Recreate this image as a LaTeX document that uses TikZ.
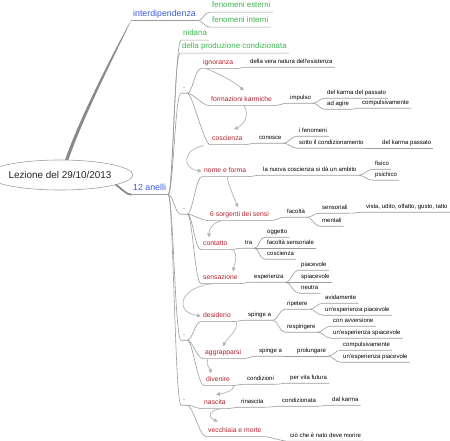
\documentclass[tikz,border=0pt]{standalone}
\usepackage{fontspec}
\setmainfont{Liberation Sans}
\usepackage{tikz}
\usetikzlibrary{positioning, shapes.geometric, arrows.meta}
\definecolor{topicBlue}{HTML}{3A5CDB}
\definecolor{topicGreen}{HTML}{3DB84F}
\definecolor{topicRed}{HTML}{B3202C}
\definecolor{lineGray}{HTML}{9C9C9C}
\definecolor{trunkGray}{HTML}{8A8A8A}
\definecolor{arrowGray}{HTML}{B4B4B4}
\begin{document}
\begin{tikzpicture}[x=1pt, y=-1pt,
    topic/.style={anchor=west, inner xsep=2pt, inner ysep=2pt},
    maintopic/.style={topic, text=topicBlue, font=\fontsize{8.8}{10}\selectfont, text height=6.6pt, text depth=2.2pt},
    greentopic/.style={topic, text=topicGreen, font=\fontsize{7.9}{9}\selectfont, text height=5.9pt, text depth=2pt},
    ringtopic/.style={topic, text=topicRed, font=\fontsize{6.8}{8}\selectfont, text height=5pt, text depth=1.7pt},
    leaftopic/.style={topic, font=\fontsize{6}{7}\selectfont, text height=4.5pt, text depth=1.5pt},
    dashtopic/.style={leaftopic, text=black!60},
    branch/.style={draw=lineGray, line width=0.6pt},
    trunk/.style={draw=trunkGray, line width=1.8pt, line cap=round},
    rel/.style={draw=arrowGray, line width=0.7pt, -{Triangle[length=4pt, width=3.6pt]}}]
  \fill[white] (0,0) rectangle (450,440);
  \useasboundingbox (0,0) rectangle (450,440);

  \node[ellipse, draw=gray!75, line width=0.6pt, minimum width=119pt, minimum height=30pt, inner sep=0pt,
        text=black!85, font=\fontsize{9.9}{11}\selectfont] (root) at (60,175) {Lezione del 29/10/2013};

  % main topics
  \node[maintopic] (interd) at (131,14) {interdipendenza};
  \node[greentopic] (fext) at (210,6) {fenomeni esterni};
  \node[greentopic] (fint) at (210,21) {fenomeni interni};
  \node[maintopic] (anelli) at (131,188) {12 anelli};
  \node[greentopic] (nidana) at (181,34) {nidana};
  \node[greentopic] (dpc) at (180,47) {della produzione condizionata};
  \node[dashtopic] (d1) at (181,88) {-};
  \node[dashtopic] (d2) at (181,209) {-};
  \node[dashtopic] (d3) at (181,335) {-};
  \node[dashtopic] (d4) at (181,400) {-};

  % the twelve links
  \node[ringtopic] (ign) at (201,63) {ignoranza};
  \node[ringtopic] (fk) at (209,100) {formazioni karmiche};
  \node[ringtopic] (cos) at (210,139) {coscienza};
  \node[ringtopic] (nef) at (202,171) {nome e forma};
  \node[ringtopic] (sei) at (208,215) {6 sorgenti dei sensi};
  \node[ringtopic] (cont) at (201,244) {contatto};
  \node[ringtopic] (sens) at (201,278) {sensazione};
  \node[ringtopic] (des) at (201,316) {desiderio};
  \node[ringtopic] (agg) at (203,353) {aggrapparsi};
  \node[ringtopic] (div) at (204,380) {divenire};
  \node[ringtopic] (nas) at (202,403) {nascita};
  \node[ringtopic] (vec) at (206,431) {vecchiaia e morte};

  % details
  \node[leaftopic] (dvn) at (248,62) {della vera natura dell'esistenza};
  \node[leaftopic] (imp) at (288,98) {impulso};
  \node[leaftopic] (dkp) at (325,93) {del karma del passato};
  \node[leaftopic] (adag) at (325,104) {ad agire};
  \node[leaftopic] (comp) at (360,103) {compulsivamente};
  \node[leaftopic] (con) at (257,138) {conosce};
  \node[leaftopic] (ifen) at (297,131) {i fenomeni};
  \node[leaftopic] (sotto) at (297,143) {sotto il condizionamento};
  \node[leaftopic] (dkpa) at (380,143) {del karma passato};
  \node[leaftopic] (nca) at (261,170) {la nuova coscienza si dà un ambito};
  \node[leaftopic] (fis) at (373,164) {fisico};
  \node[leaftopic] (psi) at (373,175) {psichico};
  \node[leaftopic] (fac) at (285,212) {facoltà};
  \node[leaftopic] (sensor) at (320,208) {sensoriali};
  \node[leaftopic] (vista) at (364,207) {vista, udito, olfatto, gusto, tatto};
  \node[leaftopic] (ment) at (320,221) {mentali};
  \node[leaftopic] (tra) at (243,243) {tra};
  \node[leaftopic] (ogg) at (265,232) {oggetto};
  \node[leaftopic] (facs) at (265,243) {facoltà sensoriale};
  \node[leaftopic] (cosc) at (265,254) {coscienza};
  \node[leaftopic] (esp) at (252,277) {esperienza};
  \node[leaftopic] (piac) at (299,265) {piacevole};
  \node[leaftopic] (spiac) at (299,277) {spiacevole};
  \node[leaftopic] (neu) at (299,288) {neutra};
  \node[leaftopic] (spa) at (246,315) {spinge a};
  \node[leaftopic] (rip) at (285,304) {ripetere};
  \node[leaftopic] (avid) at (323,298) {avidamente};
  \node[leaftopic] (uep) at (323,310) {un'esperienza piacevole};
  \node[leaftopic] (resp) at (285,327) {respingere};
  \node[leaftopic] (cavv) at (331,321) {con avversione};
  \node[leaftopic] (ues) at (331,333) {un'esperienza spiacevole};
  \node[leaftopic] (spb) at (257,351) {spinge a};
  \node[leaftopic] (prol) at (295,351) {prolungare};
  \node[leaftopic] (compb) at (341,345) {compulsivamente};
  \node[leaftopic] (uepb) at (341,357) {un'esperienza piacevole};
  \node[leaftopic] (condz) at (245,379) {condizioni};
  \node[leaftopic] (pvf) at (288,378) {per vita futura};
  \node[leaftopic] (rin) at (239,402) {rinascita};
  \node[leaftopic] (condta) at (280,401) {condizionata};
  \node[leaftopic] (dalk) at (330,400) {dal karma};
  \node[leaftopic] (cio) at (288,436) {ciò che è nato deve morire};

  % branches
  \fill[trunkGray] ([xshift=-1.7pt]root.66) .. controls +(16,-47) and +(-6,10) .. (interd.south west)
     .. controls +(-4,10) and +(16,-47) .. ([xshift=1.7pt]root.66) -- cycle;
  \draw[trunk] (root.-10) .. controls +(5,3) and +(-5,0) .. (anelli.south west);
  \draw[branch] (interd.south west) -- (interd.south east);
  \draw[branch] (anelli.south west) -- (anelli.south east);
  \foreach \a/\b in {interd/fext, interd/fint, anelli/nidana, anelli/dpc,
      anelli/d1, anelli/d2, anelli/d3, anelli/d4,
      d1/ign, d1/fk, d1/cos, d2/nef, d2/sei, d2/cont, d2/sens,
      d3/des, d3/agg, d3/div, d4/nas, d4/vec,
      ign/dvn, fk/imp, imp/dkp, imp/adag, adag/comp,
      cos/con, con/ifen, con/sotto, sotto/dkpa,
      nef/nca, nca/fis, nca/psi, sei/fac, fac/sensor, sensor/vista, fac/ment,
      cont/tra, tra/ogg, tra/facs, tra/cosc,
      sens/esp, esp/piac, esp/spiac, esp/neu,
      des/spa, spa/rip, rip/avid, rip/uep, spa/resp, resp/cavv, resp/ues,
      agg/spb, spb/prol, prol/compb, prol/uepb,
      div/condz, condz/pvf, nas/rin, rin/condta, condta/dalk, vec/cio}
    \draw[branch] (\a.south east) .. controls +(5,0) and +(-6,0) .. (\b.south west) -- (\b.south east);

  % sequence of the links
  \draw[rel] ([shift={(5,0)}]ign.south west) .. controls +(15,6) and +(-12,-10) .. ([shift={(35,-4)}]fk.north west);
  \draw[rel] ([shift={(35,0)}]fk.south west) .. controls +(6,10) and +(10,-5) .. ([shift={(24,-4)}]cos.north west);
  \draw[rel] ([shift={(-6,1)}]cos.south west) .. controls +(-22,4) and +(-20,-2) .. (nef.west);
  \draw[rel] ([shift={(25,0)}]nef.south west) .. controls +(2,10) and +(-4,-10) .. ([shift={(30,-2)}]sei.north west);
  \draw[rel] ([shift={(14,0)}]sei.south west) .. controls +(-10,2) and +(0,-8) .. ([shift={(8,-1)}]cont.north west);
  \draw[rel] ([shift={(3,0)}]cont.south east) .. controls +(6,6) and +(2,-10) .. ([shift={(32,-1)}]sens.north west);
  \draw[rel] ([shift={(14,0)}]sens.south west) .. controls +(-35,2) and +(-28,-4) .. (des.west);
  \draw[rel] ([shift={(3,0)}]des.south east) .. controls +(3,8) and +(4,-8) .. ([shift={(20,-1)}]agg.north west);
  \draw[rel] ([shift={(5,0)}]agg.south west) .. controls +(-3,5) and +(-1,-5) .. ([shift={(7,-1)}]div.north west);
  \draw[rel] ([shift={(2,0)}]div.south east) .. controls +(0,5) and +(8,-1) .. ([shift={(14,-3)}]nas.north west);
  \draw[rel] ([shift={(20,0)}]nas.south west) .. controls +(-15,2) and +(-10,-4) .. ([shift={(12,-4)}]vec.north west);
\end{tikzpicture}
\end{document}
